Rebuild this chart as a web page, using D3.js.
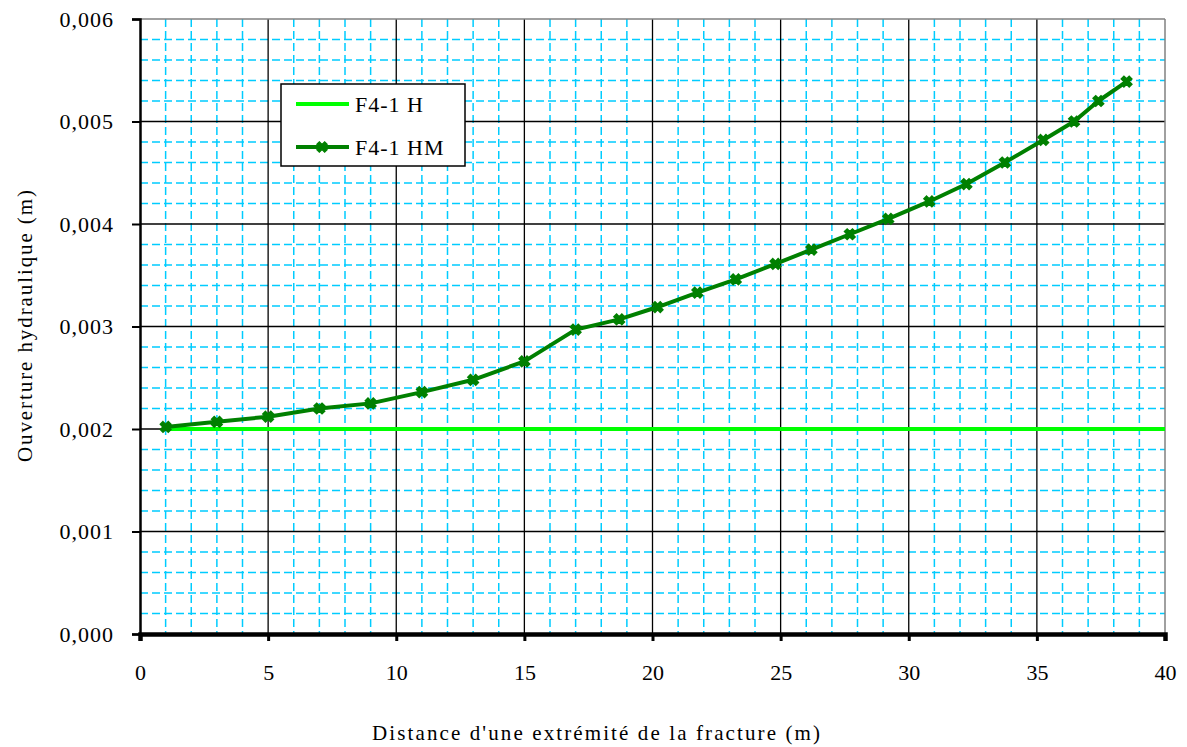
<!DOCTYPE html>
<html><head><meta charset="utf-8">
<script src="https://cdn.jsdelivr.net/npm/d3@7"></script>
<style>body{margin:0;background:#fff;}</style>
</head><body><svg id="c" width="1187" height="747"></svg>
<script>
const FONT = "'Liberation Serif', 'Times New Roman', serif";
const xTicks = [0,5,10,15,20,25,30,35,40];
const yTicks = [0,0.001,0.002,0.003,0.004,0.005,0.006];
const yTickLabels = ["0,000","0,001","0,002","0,003","0,004","0,005","0,006"];
const hmX = [1,3,5,7,9,11,13,15,17,18.7,20.2,21.75,23.25,24.8,26.2,27.7,29.2,30.8,32.25,33.75,35.25,36.45,37.4,38.5];
const hmY = [0.00202,0.00207,0.00212,0.0022,0.00225,0.00236,0.00248,0.00266,0.00297,0.00307,0.00319,0.00333,0.00346,0.00361,0.00375,0.0039,0.00405,0.00422,0.00439,0.0046,0.00482,0.005,0.0052,0.00539];
const hX = [0.9,40];
const hY = [0.002,0.002];
const seriesNames = ["F4-1 H","F4-1 HM"];

const svg = d3.select("#c");
const L=140,R=1165,T=19,B=634;
const x = d3.scaleLinear().domain([0,40]).range([L,R]);
const y = d3.scaleLinear().domain([0,0.006]).range([B,T]);

const g = svg.append("g");
d3.range(1,40).filter(v=>v%5!==0).forEach(v=>{
  g.append("line").attr("x1",x(v)).attr("x2",x(v)).attr("y1",T).attr("y2",B)
   .attr("stroke","#00ccff").attr("stroke-width",1.5).attr("stroke-dasharray","8,4");
});
d3.range(1,30).filter(v=>v%5!==0).forEach(i=>{
  const v=i*0.0002;
  g.append("line").attr("x1",L).attr("x2",R).attr("y1",y(v)).attr("y2",y(v))
   .attr("stroke","#00ccff").attr("stroke-width",1.5).attr("stroke-dasharray","8,4");
});
xTicks.slice(1,-1).forEach(v=>{
  g.append("line").attr("x1",x(v)).attr("x2",x(v)).attr("y1",T).attr("y2",B).attr("stroke","#000").attr("stroke-width",1.3);
});
yTicks.slice(1,-1).forEach(v=>{
  g.append("line").attr("x1",L).attr("x2",R).attr("y1",y(v)).attr("y2",y(v)).attr("stroke","#000").attr("stroke-width",1.3);
});
svg.append("line").attr("x1",L).attr("x2",R).attr("y1",T).attr("y2",T).attr("stroke","#808080").attr("stroke-width",1.5);
svg.append("line").attr("x1",R).attr("x2",R).attr("y1",T).attr("y2",B).attr("stroke","#808080").attr("stroke-width",1.5);

const yAxis = d3.axisLeft(y).tickValues(yTicks).tickFormat((d,i)=>yTickLabels[i]).tickSize(8).tickPadding(18);
const ya = svg.append("g").attr("transform",`translate(${L},0)`).call(yAxis).attr("font-family",FONT);
ya.select(".domain").attr("stroke","#000").attr("stroke-width",2.5);
ya.selectAll(".tick line").attr("stroke","#000").attr("stroke-width",2);
ya.selectAll("text").attr("font-size",22).attr("fill","#000").attr("font-family",FONT).attr("letter-spacing","1px");

const xAxis = d3.axisBottom(x).tickValues(xTicks).tickSize(7).tickPadding(23);
const xa = svg.append("g").attr("transform",`translate(0,${B})`).call(xAxis).attr("font-family",FONT);
xa.select(".domain").attr("stroke","#000").attr("stroke-width",4.5);
xa.selectAll(".tick line").attr("stroke","#000").attr("stroke-width",3);
xa.selectAll("text").attr("font-size",22).attr("fill","#000").attr("font-family",FONT);

const line = d3.line().x(d=>x(d[0])).y(d=>y(d[1]));
svg.append("path").datum(hX.map((v,i)=>[v,hY[i]])).attr("d",line)
  .attr("fill","none").attr("stroke","#00ff00").attr("stroke-width",4);
const hm = hmX.map((v,i)=>[v,hmY[i]]);
svg.append("path").datum(hm).attr("d",line)
  .attr("fill","none").attr("stroke","#008000").attr("stroke-width",4).attr("stroke-linejoin","round");
const sym = d3.symbol().type(d3.symbolCross).size(70);
svg.selectAll(".m").data(hm).enter().append("path")
  .attr("d",sym).attr("transform",d=>`translate(${x(d[0])},${y(d[1])}) rotate(45)`)
  .attr("fill","#008000").attr("stroke","#008000").attr("stroke-width",1.5);

const lg = svg.append("g").attr("font-family",FONT);
lg.append("rect").attr("x",281).attr("y",84).attr("width",184).attr("height",82)
  .attr("fill","#fff").attr("stroke","#000").attr("stroke-width",1.5);
lg.append("line").attr("x1",296).attr("x2",349).attr("y1",104).attr("y2",104).attr("stroke","#00ff00").attr("stroke-width",4);
lg.append("line").attr("x1",296).attr("x2",349).attr("y1",147).attr("y2",147).attr("stroke","#008000").attr("stroke-width",4);
lg.append("path").attr("d",sym).attr("transform","translate(322,147) rotate(45)").attr("fill","#008000").attr("stroke","#008000");
lg.append("text").attr("x",355).attr("y",112).attr("font-size",22).attr("letter-spacing","1px").text(seriesNames[0]);
lg.append("text").attr("x",355).attr("y",155).attr("font-size",22).attr("letter-spacing","1px").text(seriesNames[1]);

svg.append("text").attr("x",372).attr("y",740).attr("font-size",21).attr("font-family",FONT)
  .attr("textLength",448).attr("lengthAdjust","spacing")
  .text("Distance d'une extrémité de la fracture (m)");
svg.append("text").attr("transform","translate(32,462) rotate(-90)").attr("font-size",21).attr("font-family",FONT)
  .attr("textLength",272).attr("lengthAdjust","spacing")
  .text("Ouverture hydraulique (m)");
</script></body></html>
